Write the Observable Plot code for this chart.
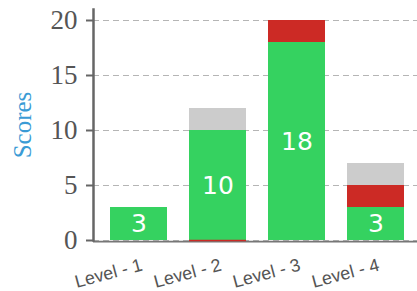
<!DOCTYPE html>
<html>
<head>
<meta charset="utf-8">
<script src="https://cdn.jsdelivr.net/npm/d3@7"></script>
<script src="https://cdn.jsdelivr.net/npm/@observablehq/plot@0.6"></script>
<style>
  html, body { margin: 0; padding: 0; background: #fff; }
</style>
</head>
<body>
<div id="chart"></div>
<script>
const categories = ["Level - 1", "Level - 2", "Level - 3", "Level - 4"];
const passed = [3, 10, 18, 3];
const failed = [null, 0, 2, 2];
const pending = [null, 2, null, 2];
const seriesNames = ["passed", "failed", "pending"];
const seriesColors = ["#35d260", "#cc2a25", "#cccccc"];
const yTicks = [0, 5, 10, 15, 20];
const yLabel = "Scores";

const rows = categories.flatMap((c, i) => [
  {c, s: "passed", v: passed[i]},
  {c, s: "failed", v: failed[i]},
  {c, s: "pending", v: pending[i]}
]).filter(d => d.v != null);

const zeroFailed = rows.filter(d => d.s === "failed" && d.v === 0);
const labels = categories.map((c, i) => ({c, v: passed[i]}));

const chart = Plot.plot({
  width: 417,
  height: 291,
  marginTop: 9,
  marginBottom: 51,
  marginLeft: 93,
  marginRight: 0,
  style: {background: "#fff", overflow: "visible"},
  x: {domain: categories, range: [93, 422], paddingInner: 0.275, paddingOuter: 0.2, axis: null},
  y: {domain: [0, 21], axis: null},
  color: {domain: seriesNames, range: seriesColors},
  marks: [
    Plot.gridY(yTicks, {stroke: "#b5b5b5", strokeOpacity: 1, strokeDasharray: "6,4", strokeWidth: 1}),
    Plot.barY(rows, {x: "c", y: "v", fill: "s"}),
    Plot.text(labels, {x: "c", y: d => d.v / 2, text: d => String(d.v), fill: "#fff", fontSize: 25, fontFamily: "DejaVu Sans", ariaLabel: "values"}),
    Plot.ruleY([0], {stroke: "#cfcfcf", strokeWidth: 1, dy: 2}),
    Plot.ruleY([0], {stroke: "#777", strokeWidth: 1.5, dy: 1}),
    Plot.tickY(zeroFailed, {x: "c", y: 0, stroke: seriesColors[1], strokeWidth: 1.5, dy: 0}),
    Plot.frame({anchor: "left", stroke: "#666", strokeWidth: 2.5}),
    Plot.axisY({ticks: yTicks, tickSize: 7, tickPadding: 9, stroke: "#666", strokeWidth: 2, fontSize: 27, fontFamily: "Liberation Serif", fill: "#555", label: null, ariaLabel: "yticks"}),
    Plot.text(categories, {x: d => d, y: 0, dy: 24, dx: 3, rotate: -15, textAnchor: "end", lineAnchor: "middle", fontSize: 18, fontFamily: "Liberation Sans", fill: "#555", ariaLabel: "xlabels"}),
    Plot.text([yLabel], {frameAnchor: "left", dx: -71, rotate: -90, textAnchor: "middle", fontSize: 25, fontFamily: "Liberation Serif", fill: "#3a9bd5", ariaLabel: "ylabel"})
  ]
});

document.getElementById("chart").appendChild(chart);
</script>
</body>
</html>
